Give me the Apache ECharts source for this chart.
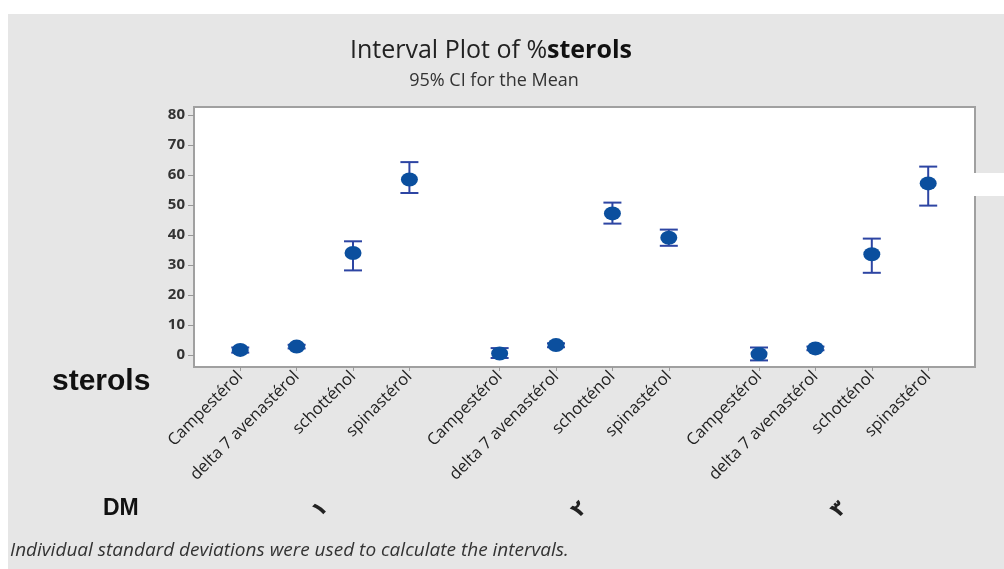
<!DOCTYPE html>
<html>
<head>
<meta charset="utf-8">
<script src="https://cdn.jsdelivr.net/npm/echarts@6/dist/echarts.min.js"></script>
<style>
html, body { margin: 0; padding: 0; background: #fff; }
#chart { width: 1004px; height: 569px; }
</style>
</head>
<body>
<div id="chart"></div>
<script>
// sterol names, repeated in each DM group
var compounds = ['Campestérol', 'delta 7 avenastérol', 'schotténol', 'spinastérol'];
var groups = ['١', '٢', '٣'];
// mean and 95% CI, in the order group 1..3, compound 1..4
var means = [1.7, 2.8, 34.0, 58.5, 0.5, 3.3, 47.2, 39.1, 0.3, 2.2, 33.6, 57.2];
var lower = [0.8, 2.2, 28.2, 54.0, -1.0, 2.6, 43.8, 36.4, -1.8, 1.6, 27.4, 49.8];
var upper = [2.5, 3.4, 37.9, 64.3, 2.3, 3.9, 50.8, 41.8, 2.5, 2.8, 38.8, 62.8];
var yTicks = [0, 10, 20, 30, 40, 50, 60, 70, 80];

var groupGap = 1.6; // distance between last of one group and first of next
var xPos = [], xNames = [], groupPos = [];
for (var g = 0; g < groups.length; g++) {
	var start = g * (compounds.length - 1 + groupGap);
	for (var c = 0; c < compounds.length; c++) {
		xPos.push(start + c);
		xNames.push(compounds[c]);
	}
	groupPos.push(start + (compounds.length - 1) / 2);
}

var barData = [], dotData = [];
for (var i = 0; i < means.length; i++) {
	barData.push([xPos[i], lower[i], upper[i]]);
	dotData.push([xPos[i], means[i]]);
}

function nameAt(list, names, v) {
	for (var k = 0; k < list.length; k++) {
		if (Math.abs(list[k] - v) < 1e-6) return names[k];
	}
	return '';
}

var chart = echarts.init(document.getElementById('chart'));
var xMin = -0.82, xMax = xPos[xPos.length - 1] + 0.83;

var option = {
	animation: false,
	graphic: [{
		type: 'rect', z: -10, silent: true,
		shape: { x: 8, y: 14, width: 996, height: 555 },
		style: { fill: '#e6e6e6' }
	}, {
		type: 'text', x: 491, y: 38,
		style: {
			text: '{a|Interval Plot of %}{b|sterols}',
			align: 'center',
			rich: {
				a: { fontFamily: 'Open Sans', fontSize: 25, fill: '#222' },
				b: { fontFamily: 'Open Sans', fontSize: 25, fontWeight: 'bold', fill: '#111' }
			}
		}
	}, {
		type: 'text', x: 494, y: 72,
		style: { text: '95% CI for the Mean', align: 'center', fontFamily: 'Open Sans', fontSize: 18, fill: '#333' }
	}, {
		type: 'text', left: 52, top: 367,
		style: { text: 'sterols', fontFamily: 'Liberation Sans', fontSize: 30, fontWeight: 'bold', fill: '#111' }
	}, {
		type: 'text', left: 103, top: 497,
		style: { text: 'DM', fontFamily: 'Liberation Sans', fontSize: 23, fontWeight: 'bold', fill: '#111' }
	}, {
		type: 'text', left: 10, top: 541,
		style: {
			text: 'Individual standard deviations were used to calculate the intervals.',
			fontFamily: 'Open Sans', fontSize: 19, fontStyle: 'italic', fill: '#333'
		}
	}, {
		type: 'rect', z: 10, silent: true,
		shape: { x: 972, y: 173, width: 32, height: 23 },
		style: { fill: '#fff' }
	}],
	grid: {
		left: 194, top: 107, width: 781, height: 260,
		show: true, backgroundColor: '#fff', borderColor: '#a0a0a0', borderWidth: 2
	},
	xAxis: [{
		type: 'value', min: xMin, max: xMax,
		splitLine: { show: false },
		axisLine: { show: false, onZero: false },
		axisTick: { show: true, customValues: xPos, length: 4, lineStyle: { color: '#999' } },
		axisLabel: {
			customValues: xPos, rotate: 45, margin: 7,
			fontFamily: 'Open Sans', fontSize: 16.5, color: '#222',
			formatter: function(v) { return nameAt(xPos, xNames, v); }
		}
	}, {
		type: 'value', min: xMin, max: xMax, position: 'bottom', offset: 130,
		splitLine: { show: false },
		axisLine: { show: false, onZero: false },
		axisTick: { show: false },
		axisLabel: {
			customValues: groupPos, rotate: 45,
			fontFamily: 'DejaVu Sans', fontSize: 21, fontWeight: 'bold', color: '#222',
			formatter: function(v) { return nameAt(groupPos, groups, v); }
		}
	}],
	yAxis: {
		type: 'value', min: -4, max: 82.67,
		splitLine: { show: false },
		axisLine: { show: false, onZero: false },
		axisTick: { show: true, customValues: yTicks, length: 6, lineStyle: { color: '#999' } },
		axisLabel: {
			customValues: yTicks, margin: 9,
			fontFamily: 'Open Sans', fontSize: 15, fontWeight: 'bold', color: '#333'
		}
	},
	series: [{
		type: 'custom',
		data: barData,
		z: 3,
		renderItem: function(params, api) {
			var x = api.value(0);
			var lo = api.coord([x, api.value(1)]);
			var hi = api.coord([x, api.value(2)]);
			var w = 9;
			var st = { stroke: '#2d45a3', lineWidth: 2 };
			return {
				type: 'group',
				children: [
					{ type: 'line', shape: { x1: lo[0], y1: lo[1], x2: hi[0], y2: hi[1] }, style: st },
					{ type: 'line', shape: { x1: lo[0] - w, y1: lo[1], x2: lo[0] + w, y2: lo[1] }, style: st },
					{ type: 'line', shape: { x1: hi[0] - w, y1: hi[1], x2: hi[0] + w, y2: hi[1] }, style: st }
				]
			};
		}
	}, {
		type: 'scatter',
		data: dotData,
		z: 4,
		symbol: 'circle',
		symbolSize: [17, 14],
		itemStyle: { color: '#0b4f9e', opacity: 1 }
	}]
};

chart.setOption(option);
</script>
</body>
</html>
